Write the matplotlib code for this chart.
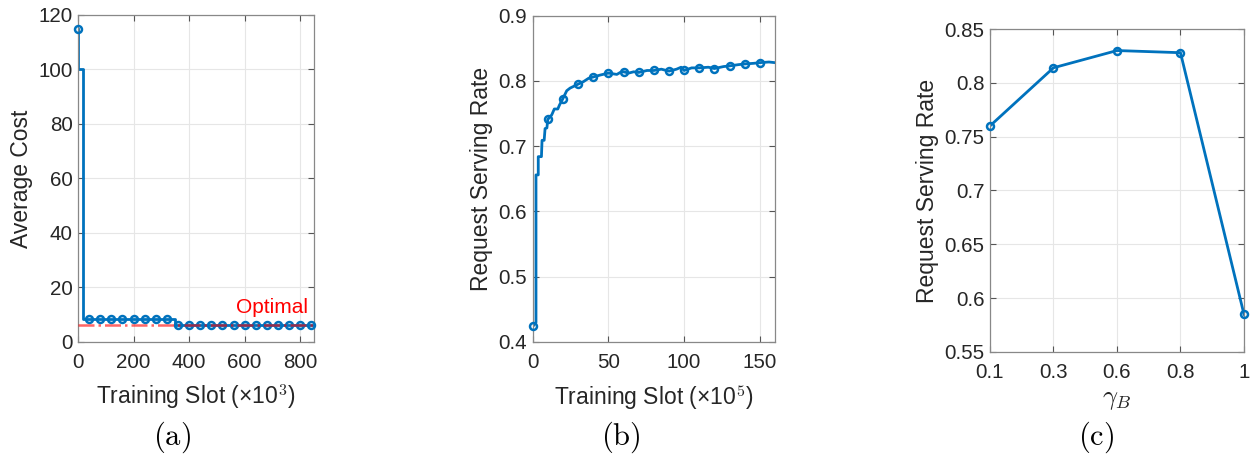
import matplotlib
matplotlib.use("Agg")
import matplotlib.pyplot as plt

plt.rcParams['font.family'] = ['Liberation Sans', 'DejaVu Sans']
plt.rcParams['mathtext.fontset'] = 'cm'

BLUE = '#0072BD'

# ============== DATA ==============
# (a) average cost vs training slot (x10^3)
cost_x = [0, 0.5, 16, 348, 850]
cost_y = [115, 100, 8.6, 6.4, 6.4]
cost_mk_x = [0, 40, 80, 120, 160, 200, 240, 280, 320, 360, 400, 440, 480,
             520, 560, 600, 640, 680, 720, 760, 800, 840]
cost_mk_y = [115, 8.6, 8.6, 8.6, 8.6, 8.6, 8.6, 8.6, 8.6, 6.4, 6.4, 6.4, 6.4,
             6.4, 6.4, 6.4, 6.4, 6.4, 6.4, 6.4, 6.4, 6.4]
optimal_cost = 6.4

# (b) request serving rate vs training slot (x10^5)
rate_x = [0.5, 2.2, 2.2, 3.7, 3.7, 5.8, 6.2, 7.6, 8.2, 9.4, 10, 12.6, 14.3, 16.6,
          17.7, 20, 22.5, 24.7, 30, 33.6, 36.9, 40, 44.6, 50, 55.6, 57.8, 60,
          63.4, 66.7, 70, 75.5, 80, 85, 90, 95, 98, 100, 105, 110, 116, 120,
          126, 130, 136, 140, 146, 150, 156, 160]
rate_y = [0.425, 0.43, 0.656, 0.656, 0.684, 0.684, 0.709, 0.709, 0.727, 0.728,
          0.741, 0.748, 0.757, 0.757, 0.763, 0.773, 0.785, 0.789, 0.795, 0.799,
          0.804, 0.806, 0.809, 0.812, 0.810, 0.813, 0.814, 0.812, 0.814, 0.813,
          0.816, 0.816, 0.818, 0.815, 0.818, 0.821, 0.816, 0.820, 0.820, 0.821,
          0.819, 0.822, 0.823, 0.825, 0.826, 0.827, 0.828, 0.829, 0.828]
rate_mk_x = [0.5, 10, 20, 30, 40, 50, 60, 70, 80, 90, 100, 110, 120, 130, 140, 150]
rate_mk_y = [0.425, 0.741, 0.773, 0.795, 0.806, 0.812, 0.814, 0.813, 0.816,
             0.815, 0.816, 0.820, 0.819, 0.823, 0.826, 0.828]

# (c) request serving rate vs gamma_B
gamma_labels = ['0.1', '0.3', '0.6', '0.8', '1']
gamma_rate = [0.760, 0.814, 0.830, 0.828, 0.585]
# ==================================

TICK = 14.8
LABEL = 16.5

fig = plt.figure(figsize=(12.53, 4.54), dpi=100)
ax1 = fig.add_axes([0.0623, 0.2467, 0.1883, 0.7203])
ax2 = fig.add_axes([0.4251, 0.2467, 0.1934, 0.7188])
ax3 = fig.add_axes([0.7901, 0.2247, 0.2027, 0.7114])


def style(ax):
    ax.grid(True, color='#e6e6e6', linewidth=0.8)
    ax.set_axisbelow(True)
    ax.tick_params(direction='in', top=True, right=True, labelsize=TICK,
                   color='#555555', length=4, labelcolor='#262626')
    ax.tick_params(axis='y', pad=4)
    ax.tick_params(axis='x', pad=8)
    for s in ax.spines.values():
        s.set_color('#888888')
        s.set_linewidth(0.9)


mk = dict(marker='o', markersize=5, markerfacecolor='none',
          markeredgecolor=BLUE, markeredgewidth=1.8, linestyle='none',
          clip_on=False, zorder=4)

# (a)
ax1.plot(cost_x, cost_y, color=BLUE, linewidth=2, drawstyle='steps-post')
ax1.plot(cost_mk_x, cost_mk_y, **mk)
ax1.axhline(optimal_cost, color='red', linestyle='-.', linewidth=1.8, alpha=0.6, zorder=5)
ax1.text(830, 10.6, 'Optimal', color='red', fontsize=15, ha='right', va='baseline')
ax1.set_xlim(0, 850)
ax1.set_ylim(0, 120)
ax1.set_xticks([0, 200, 400, 600, 800])
ax1.set_yticks(range(0, 121, 20))
ax1.set_xlabel(r'Training Slot (×10$^{\mathsf{3}}$)', fontsize=LABEL, color='#262626',
               labelpad=8)
ax1.set_ylabel('Average Cost', fontsize=LABEL, color='#262626')
style(ax1)

# (b)
ax2.plot(rate_x, rate_y, color=BLUE, linewidth=2)
ax2.plot(rate_mk_x, rate_mk_y, **mk)
ax2.set_xlim(0, 160)
ax2.set_ylim(0.4, 0.9)
ax2.set_xticks([0, 50, 100, 150])
ax2.set_yticks([0.4, 0.5, 0.6, 0.7, 0.8, 0.9])
ax2.set_xlabel(r'Training Slot (×10$^{\mathsf{5}}$)', fontsize=LABEL, color='#262626',
               labelpad=8)
ax2.set_ylabel('Request Serving Rate', fontsize=LABEL, color='#262626')
style(ax2)

# (c)
gx = range(len(gamma_labels))
ax3.plot(gx, gamma_rate, color=BLUE, linewidth=2)
ax3.plot(gx, gamma_rate, **mk)
ax3.set_xlim(0, len(gamma_labels) - 1)
ax3.set_ylim(0.55, 0.85)
ax3.set_xticks(list(gx))
ax3.set_xticklabels(gamma_labels)
ax3.set_yticks([0.55, 0.6, 0.65, 0.7, 0.75, 0.8, 0.85])
ax3.set_yticklabels(['0.55', '0.6', '0.65', '0.7', '0.75', '0.8', '0.85'])
ax3.set_xlabel(r'$\gamma_B$', fontsize=19, color='#262626', labelpad=4)
ax3.set_ylabel('Request Serving Rate', fontsize=LABEL, color='#262626')
style(ax3)

for x, lab in [(0.137, '(a)'), (0.4956, '(b)'), (0.875, '(c)')]:
    fig.text(x, 0.037, r'$\mathrm{' + lab + '}$', fontsize=22, ha='center', va='center')

fig.savefig('out.png', dpi=100)
